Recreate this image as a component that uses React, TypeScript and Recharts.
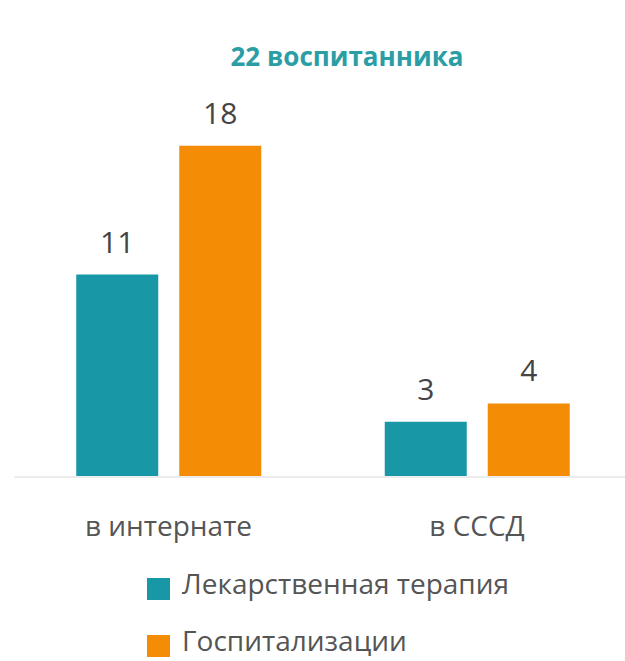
import React from "react";
import { BarChart, Bar, XAxis, YAxis, Legend, LabelList } from "recharts";

const categories = ["в интернате", "в СССД"];
const drugTherapy = [11, 3];
const hospitalizations = [18, 4];
const seriesNames = ["Лекарственная терапия", "Госпитализации"];

const TEAL = "#1898a6";
const ORANGE = "#f48c06";
const FONT = "'Open Sans', sans-serif";

const data = categories.map((name, i) => ({
  name,
  drug: drugTherapy[i],
  hosp: hospitalizations[i],
}));

const renderLegend = () => {
  const colors = [TEAL, ORANGE];
  return (
    <div style={{ fontFamily: FONT }}>
      {seriesNames.map((label, i) => (
        <div
          key={label}
          style={{ display: "flex", alignItems: "flex-start", height: 57 }}
        >
          <span
            style={{
              display: "inline-block",
              width: 23,
              height: 22,
              marginTop: 7,
              marginRight: 12,
              background: colors[i],
            }}
          />
          <span style={{ fontSize: 28, lineHeight: "24px", color: "#555" }}>
            {label}
          </span>
        </div>
      ))}
    </div>
  );
};

export default function App() {
  return (
    <div
      style={{
        position: "absolute",
        left: 0,
        top: 0,
        width: 625,
        height: 661,
        overflow: "hidden",
        background: "#fff",
      }}
    >
      <div
        style={{
          position: "absolute",
          left: 347,
          top: 40,
          transform: "translateX(-50%)",
          whiteSpace: "nowrap",
          fontFamily: FONT,
          fontWeight: 700,
          fontSize: 26,
          lineHeight: "32px",
          color: "#2a9ea4",
        }}
      >
        22 воспитанника
      </div>
      <BarChart
        width={660}
        height={661}
        data={data}
        margin={{ top: 109, right: 28.75, bottom: 124, left: 14.25 }}
        barSize={82}
        barGap={21}
      >
        <YAxis hide domain={[0, 20]} />
        <XAxis
          dataKey="name"
          height={60}
          tickLine={false}
          axisLine={{ stroke: "#ececec", strokeWidth: 2 }}
          tickMargin={33}
          tick={{ fontSize: 28, fill: "#555", fontFamily: FONT }}
        />
        <Legend
          layout="vertical"
          align="center"
          verticalAlign="middle"
          content={renderLegend}
          wrapperStyle={{ left: 147, top: 571, width: 450, height: 120 }}
        />
        <Bar dataKey="drug" name={seriesNames[0]} fill={TEAL} isAnimationActive={false}>
          <LabelList
            dataKey="drug"
            position="top"
            offset={22}
            style={{ fontSize: 30, fill: "#444", fontFamily: FONT }}
          />
        </Bar>
        <Bar dataKey="hosp" name={seriesNames[1]} fill={ORANGE} isAnimationActive={false}>
          <LabelList
            dataKey="hosp"
            position="top"
            offset={22}
            style={{ fontSize: 30, fill: "#444", fontFamily: FONT }}
          />
        </Bar>
      </BarChart>
    </div>
  );
}
